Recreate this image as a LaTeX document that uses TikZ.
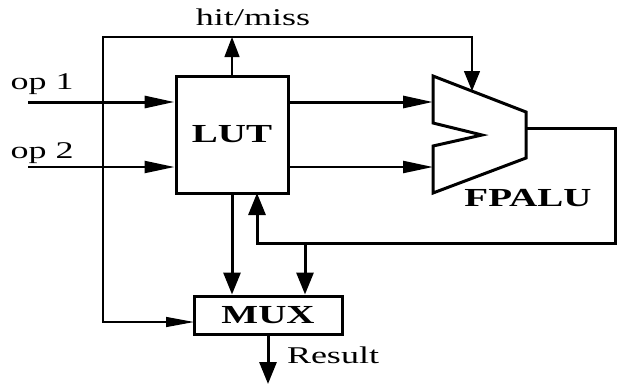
\documentclass[tikz,border=0pt]{standalone}
\usepackage{fontspec}
\setmainfont[FakeStretch=1.5]{Liberation Serif}
\usetikzlibrary{arrows.meta}
\tikzset{
  bus/.style={line width=3bp},
  sig/.style={line width=1.3bp},
  blk/.style={draw, line width=3bp, fill=white, inner sep=0pt, font=\fontsize{26bp}{29bp}\selectfont\bfseries},
  htip/.style={-{Triangle[length=30bp,width=12bp]}},
  vtip/.style={-{Triangle[length=22bp,width=17bp]}},
  lbl/.style={inner sep=0pt, font=\fontsize{24bp}{27bp}\selectfont}
}
\begin{document}
\begin{tikzpicture}[x=1bp,y=-1bp]
\useasboundingbox (0,0) rectangle (621,386);

\node[blk, minimum width=112bp, minimum height=117bp] (lut) at (232,134.5) {LUT};
\node[blk, minimum width=148bp, minimum height=38bp] (mux) at (268,315) {MUX};

\draw[line width=3bp, line join=miter]
  (433,76) -- (526,112) -- (526,158) -- (433,193) -- (433,146) -- (482,135) -- (433,123) -- cycle;
\coordinate (aluin1) at (433,102);
\coordinate (aluin2) at (433,167);
\coordinate (aluout) at (526,128);
\coordinate (alutop) at (472,91);
\node[blk, draw=none, fill=none] (alu) at (528,198) {FPALU};

\coordinate (op1) at (28,102);
\coordinate (op2) at (28,167);
\node[lbl] (op1txt) at (42,84) {op 1};
\node[lbl] (op2txt) at (42,153) {op 2};
\draw[bus, htip] (op1) -- (lut.west |- op1);
\draw[bus, htip, line width=2.2bp] (op2) -- (lut.west |- op2);

\draw[bus, htip] (lut.east |- aluin1) -- (aluin1);
\draw[bus, htip, line width=2.2bp] (lut.east |- aluin2) -- (aluin2);

\coordinate (ctl) at (103,37);
\coordinate (muxin) at (194,322);
\node[lbl] (hm) at (253,17) {hit/miss};
\draw[sig, {Triangle[length=20bp,width=16bp]}-{Triangle[length=28bp,width=10bp]}] (alutop) |- (ctl) |- (muxin);
\draw[sig, -{Triangle[length=20bp,width=15bp]}] (lut.north) -- (lut.north |- ctl);

\coordinate (fbr) at (615,243);
\coordinate (lutfb) at (257,193);
\coordinate (tap) at (305,243);
\draw[bus, vtip] (aluout) -| (fbr) -| (lutfb);
\draw[bus, vtip] (tap) -- (tap |- mux.north);
\draw[bus, vtip] (lut.south) -- (lut.south |- mux.north);

\coordinate (res) at (268,384);
\draw[bus, vtip] (mux.south) -- (res);
\node[lbl] (restxt) at (333,355) {Result};
\end{tikzpicture}
\end{document}
